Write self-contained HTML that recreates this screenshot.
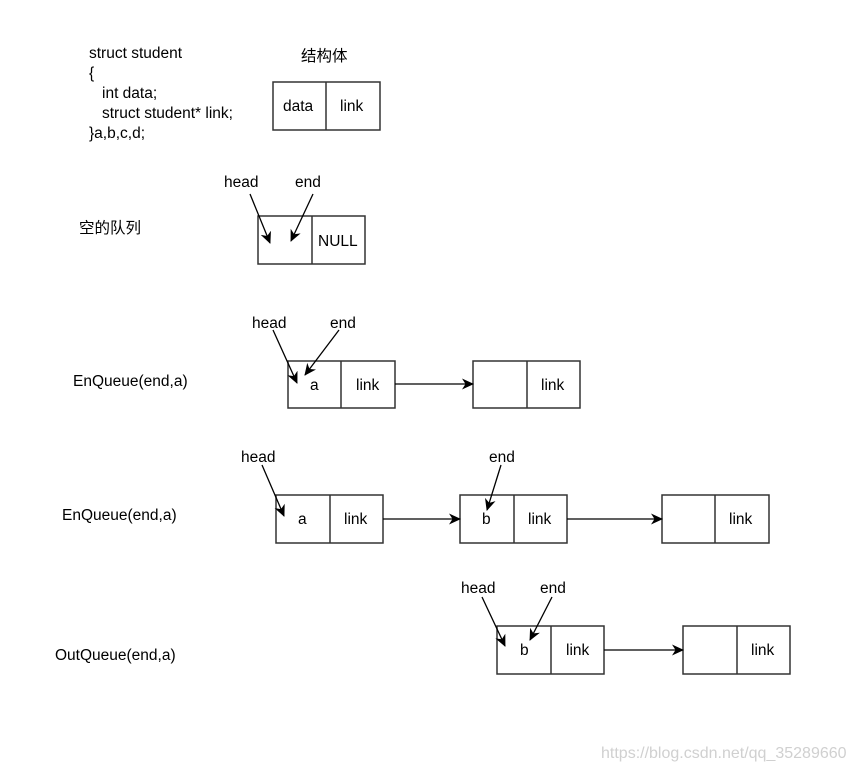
<!DOCTYPE html>
<html><head><meta charset="utf-8"><style>
html,body{margin:0;padding:0;background:#fff;}
svg{display:block;}
text{font-family:"Liberation Sans","Noto Sans CJK SC",sans-serif;font-size:15.5px;fill:#000;}
.b{fill:#fff;stroke:#333;stroke-width:1.5;}
.l{stroke:#000;stroke-width:1.3;fill:none;}
</style></head><body>
<svg width="854" height="770" viewBox="0 0 854 770" xmlns="http://www.w3.org/2000/svg">
<defs><marker id="a" markerWidth="12" markerHeight="12" refX="11" refY="6" orient="auto" markerUnits="userSpaceOnUse"><path d="M0,0.5 L12,6 L0,11.5 L3.5,6 Z" fill="#000"/></marker></defs>

<text x="89" y="58">struct student</text>
<text x="89" y="78">{</text>
<text x="102" y="98">int data;</text>
<text x="102" y="118">struct student* link;</text>
<text x="89" y="138">}a,b,c,d;</text>
<text x="301" y="61">结构体</text>
<rect class="b" x="273" y="82" width="107" height="48"/><line class="b" x1="326" y1="82" x2="326" y2="130"/>
<text x="283" y="111">data</text><text x="340" y="111">link</text>

<text x="79" y="233">空的队列</text>
<text x="224" y="187">head</text><text x="295" y="187">end</text>
<rect class="b" x="258" y="216" width="107" height="48"/><line class="b" x1="312" y1="216" x2="312" y2="264"/>
<text x="318" y="246">NULL</text>
<line class="l" x1="250" y1="194" x2="270" y2="243" marker-end="url(#a)"/>
<line class="l" x1="313" y1="194" x2="291" y2="241" marker-end="url(#a)"/>

<text x="73" y="386">EnQueue(end,a)</text>
<text x="252" y="328">head</text><text x="330" y="328">end</text>
<rect class="b" x="288" y="361" width="107" height="47"/><line class="b" x1="341" y1="361" x2="341" y2="408"/>
<text x="310" y="390">a</text><text x="356" y="390">link</text>
<rect class="b" x="473" y="361" width="107" height="47"/><line class="b" x1="527" y1="361" x2="527" y2="408"/>
<text x="541" y="390">link</text>
<line class="l" x1="395" y1="384" x2="473" y2="384" marker-end="url(#a)"/>
<line class="l" x1="273" y1="330" x2="297" y2="383" marker-end="url(#a)"/>
<line class="l" x1="339" y1="330" x2="305" y2="375" marker-end="url(#a)"/>

<text x="62" y="520">EnQueue(end,a)</text>
<text x="241" y="462">head</text><text x="489" y="462">end</text>
<rect class="b" x="276" y="495" width="107" height="48"/><line class="b" x1="330" y1="495" x2="330" y2="543"/>
<text x="298" y="524">a</text><text x="344" y="524">link</text>
<rect class="b" x="460" y="495" width="107" height="48"/><line class="b" x1="514" y1="495" x2="514" y2="543"/>
<text x="482" y="524">b</text><text x="528" y="524">link</text>
<rect class="b" x="662" y="495" width="107" height="48"/><line class="b" x1="715" y1="495" x2="715" y2="543"/>
<text x="729" y="524">link</text>
<line class="l" x1="383" y1="519" x2="460" y2="519" marker-end="url(#a)"/>
<line class="l" x1="567" y1="519" x2="662" y2="519" marker-end="url(#a)"/>
<line class="l" x1="262" y1="465" x2="284" y2="516" marker-end="url(#a)"/>
<line class="l" x1="501" y1="465" x2="487" y2="510" marker-end="url(#a)"/>

<text x="55" y="660">OutQueue(end,a)</text>
<text x="461" y="593">head</text><text x="540" y="593">end</text>
<rect class="b" x="497" y="626" width="107" height="48"/><line class="b" x1="551" y1="626" x2="551" y2="674"/>
<text x="520" y="655">b</text><text x="566" y="655">link</text>
<rect class="b" x="683" y="626" width="107" height="48"/><line class="b" x1="737" y1="626" x2="737" y2="674"/>
<text x="751" y="655">link</text>
<line class="l" x1="604" y1="650" x2="683" y2="650" marker-end="url(#a)"/>
<line class="l" x1="482" y1="597" x2="505" y2="646" marker-end="url(#a)"/>
<line class="l" x1="552" y1="597" x2="530" y2="640" marker-end="url(#a)"/>

<text x="601" y="758" style="font-size:16px;fill:#d0d0d0;">https://blog.csdn.net/qq_35289660</text>
</svg>
</body></html>
